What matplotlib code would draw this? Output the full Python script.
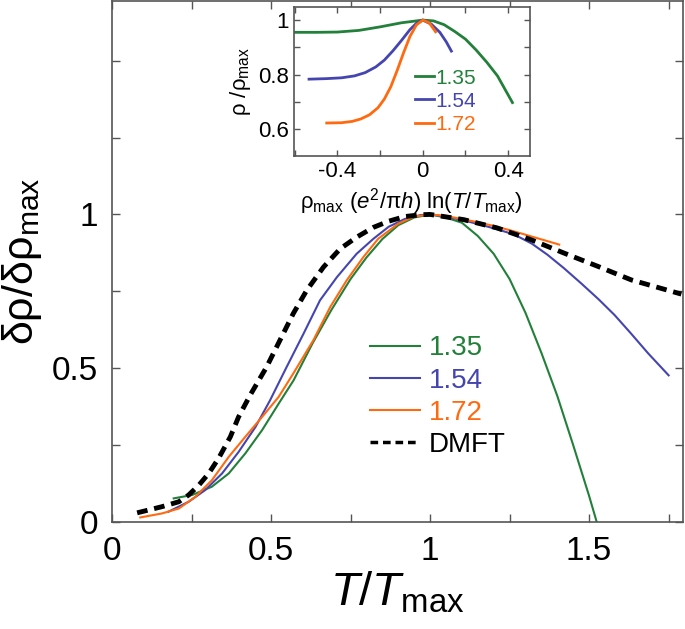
import numpy as np
import matplotlib
matplotlib.use('Agg')
import matplotlib.pyplot as plt
from matplotlib.ticker import MultipleLocator

plt.rcParams['font.family'] = ['Liberation Sans', 'DejaVu Sans']
plt.rcParams['mathtext.fontset'] = 'custom'
plt.rcParams['mathtext.rm'] = 'Liberation Sans'
plt.rcParams['mathtext.it'] = 'Liberation Sans:italic'

# Main panel: normalised peak vs T/Tmax
labels = ['1.35', '1.54', '1.72']
colors = ['#22803a', '#4545b0', '#ff6a10']

x_135 = [0.194, 0.252, 0.314, 0.367, 0.419, 0.472, 0.524, 0.571, 0.63, 0.69, 0.75, 0.8, 0.85,
         0.9, 0.95, 1.0, 1.05, 1.1, 1.15, 1.2, 1.25, 1.3, 1.35, 1.4, 1.45, 1.5, 1.524]
y_135 = [0.077, 0.088, 0.115, 0.158, 0.223, 0.299, 0.385, 0.461, 0.58, 0.69, 0.79, 0.86, 0.92,
         0.965, 0.99, 1.0, 0.99, 0.973, 0.93, 0.872, 0.79, 0.68, 0.55, 0.41, 0.25, 0.085, 0.0]

x_154 = [0.178, 0.241, 0.293, 0.346, 0.398, 0.451, 0.497, 0.549, 0.602, 0.654, 0.707, 0.769,
         0.822, 0.87, 0.92, 0.97, 1.0, 1.05, 1.1, 1.158, 1.21, 1.264, 1.32, 1.369, 1.42, 1.475,
         1.53, 1.58, 1.63, 1.686, 1.75]
y_154 = [0.034, 0.066, 0.104, 0.158, 0.228, 0.309, 0.396, 0.504, 0.612, 0.721, 0.796, 0.872,
         0.921, 0.96, 0.985, 0.998, 1.0, 0.993, 0.982, 0.967, 0.952, 0.935, 0.905, 0.869, 0.826,
         0.776, 0.724, 0.673, 0.615, 0.548, 0.477]

x_172 = [0.089, 0.157, 0.21, 0.262, 0.314, 0.367, 0.419, 0.472, 0.524, 0.57, 0.633, 0.686, 0.738,
         0.79, 0.837, 0.9, 0.95, 1.0, 1.05, 1.1, 1.158, 1.21, 1.264, 1.33, 1.406]
y_172 = [0.015, 0.028, 0.044, 0.082, 0.136, 0.212, 0.277, 0.342, 0.407, 0.483, 0.591, 0.699, 0.786,
         0.861, 0.921, 0.97, 0.993, 1.0, 0.995, 0.985, 0.973, 0.96, 0.945, 0.925, 0.902]

x_dmft = [0.079, 0.157, 0.21, 0.241, 0.273, 0.304, 0.335, 0.372, 0.398, 0.434, 0.486, 0.528, 0.57,
          0.612, 0.665, 0.717, 0.769, 0.822, 0.87, 0.92, 0.97, 1.0, 1.05, 1.106, 1.211, 1.317,
          1.422, 1.528, 1.633, 1.79]
y_dmft = [0.030, 0.05, 0.066, 0.088, 0.12, 0.158, 0.207, 0.277, 0.342, 0.412, 0.504, 0.591, 0.678,
          0.753, 0.829, 0.888, 0.926, 0.958, 0.978, 0.993, 0.999, 1.0, 0.992, 0.983, 0.956, 0.918,
          0.874, 0.831, 0.787, 0.741]

# Inset: rho/rho_max vs rho_max (e^2/pi h) ln(T/Tmax)
ix_135 = [-0.6, -0.5, -0.4, -0.3, -0.2, -0.1, 0.0, 0.05, 0.1, 0.15, 0.2, 0.25, 0.3, 0.35, 0.42]
iy_135 = [0.955, 0.955, 0.956, 0.962, 0.975, 0.99, 1.0, 0.997, 0.983, 0.958, 0.93, 0.89, 0.845,
          0.795, 0.697]
ix_154 = [-0.533, -0.45, -0.38, -0.32, -0.27, -0.22, -0.18, -0.14, -0.1, -0.06, -0.03, 0.0,
          0.04, 0.08, 0.11, 0.134]
iy_154 = [0.783, 0.785, 0.788, 0.795, 0.807, 0.828, 0.853, 0.887, 0.925, 0.965, 0.988, 1.0,
          0.985, 0.955, 0.92, 0.886]
ix_172 = [-0.45, -0.38, -0.33, -0.29, -0.25, -0.21, -0.18, -0.15, -0.12, -0.09, -0.06, -0.03,
          0.0, 0.03, 0.06]
iy_172 = [0.622, 0.623, 0.628, 0.637, 0.652, 0.678, 0.71, 0.755, 0.815, 0.88, 0.94, 0.982,
          1.0, 0.99, 0.957]

spine_col = '#555555'


def style_axes(ax, size):
    for s in ax.spines.values():
        s.set_color(spine_col)
        s.set_linewidth(1.2)
    ax.tick_params(which='both', direction='in', top=True, right=True,
                   color=spine_col, labelsize=size)
    ax.tick_params(which='major', length=6, width=1.0)
    ax.tick_params(which='minor', length=6, width=1.0)


fig = plt.figure(figsize=(6.85, 6.29), dpi=100)
ax = fig.add_axes([0.1635, 0.170, 0.8335, 0.829])

main_x = [x_135, x_154, x_172]
main_y = [y_135, y_154, y_172]
for xs, ys, c, lab in zip(main_x, main_y, colors, labels):
    ax.plot(xs, ys, color=c, lw=1.5, label=lab)
ax.plot(x_dmft, y_dmft, color='black', lw=3.5, ls=(0, (2.2, 1.4)), label='DMFT')

ax.set_xlim(0, 1.795)
ax.set_ylim(0, 1.695)
ax.set_xticks([0, 0.5, 1, 1.5])
ax.set_xticklabels(['0', '0.5', '1', '1.5'])
ax.xaxis.set_minor_locator(MultipleLocator(0.25))
ax.set_yticks([0, 0.5, 1])
ax.set_yticklabels(['0', '0.5', '1'])
ax.yaxis.set_minor_locator(MultipleLocator(0.25))
style_axes(ax, 24)
ax.tick_params(axis='both', which='major', pad=10)
ax.set_xlabel('$T/T_{\\mathrm{max}}$', fontsize=34, labelpad=2)
ax.set_ylabel('δρ/δρ$_{\\mathrm{max}}$', fontsize=31, labelpad=6)

leg = ax.legend(loc='upper left', bbox_to_anchor=(0.452, 0.358), frameon=False,
                fontsize=20, handlelength=1.8, handletextpad=0.3, labelspacing=0.22,
                borderpad=0, borderaxespad=0, labelcolor='linecolor')
for h in leg.get_lines():
    h.set_linewidth(1.5)
leg.get_lines()[3].set_linewidth(2.5)

# Inset
ins = fig.add_axes([0.429, 0.7525, 0.344, 0.2368])
for xs, ys, c in zip([ix_135, ix_154, ix_172], [iy_135, iy_154, iy_172], colors):
    ins.plot(xs, ys, color=c, lw=2)
ins.set_xlim(-0.604, 0.5)
ins.set_ylim(0.502, 1.049)
ins.set_xticks([-0.4, 0, 0.4])
ins.set_xticklabels(['-0.4', '0', '0.4'])
ins.xaxis.set_minor_locator(MultipleLocator(0.2))
ins.set_yticks([0.6, 0.8, 1.0])
ins.set_yticklabels(['0.6', '0.8', '1'])
ins.yaxis.set_minor_locator(MultipleLocator(0.1))
style_axes(ins, 16)
ins.tick_params(which='both', length=4)
ins.set_xlabel('ρ$_{\\mathrm{max}}$ ($e^2$/π$h$) ln($T$/$T_{\\mathrm{max}}$)', fontsize=16, labelpad=3)
ins.set_ylabel('ρ /ρ$_{\\mathrm{max}}$', fontsize=16, labelpad=4)

ileg = ins.legend(labels, loc='upper left', bbox_to_anchor=(0.515, 0.585), frameon=False,
                  fontsize=15, handlelength=0.9, handletextpad=0.05, labelspacing=0.2,
                  borderpad=0, borderaxespad=0, labelcolor='linecolor')

fig.savefig('out.png', dpi=100)
